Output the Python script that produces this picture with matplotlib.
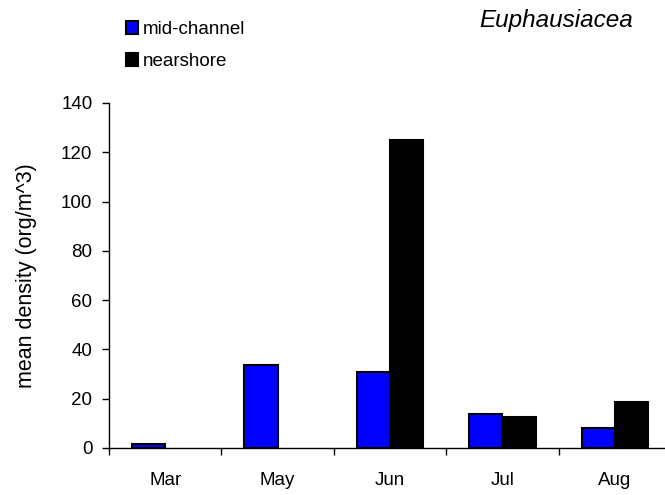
import numpy as np
import matplotlib.pyplot as plt
from matplotlib.patches import Patch

months = ["Mar", "May", "Jun", "Jul", "Aug"]
mid_channel = [1.5, 33.5, 31, 13.7, 8.2]
nearshore = [0, 0, 125, 12.7, 18.8]
yticks = [0, 20, 40, 60, 80, 100, 120, 140]

plt.rcParams['font.family'] = ['Liberation Sans', 'DejaVu Sans']

fig = plt.figure(figsize=(6.65, 4.95), dpi=100)
ax = fig.add_axes([0.164, 0.095, 0.845, 0.697])

x = np.arange(len(months))
w = 0.295
ax.bar(x - w / 2, mid_channel, w, color="#0000ff", edgecolor="black", linewidth=1.5)
near = np.array(nearshore)
ax.bar(x[near > 0] + w / 2, near[near > 0], w, color="black", edgecolor="black", linewidth=1.5)

ax.set_xlim(-0.5, len(months) - 0.5)
ax.set_ylim(0, 140)
ax.set_yticks(yticks)
ax.set_xticks(x)
ax.set_xticklabels(months)
ax.set_xticks(np.arange(len(months) + 1) - 0.5, minor=True)
ax.tick_params(axis="x", which="major", length=0, pad=17, labelsize=13.5)
ax.tick_params(axis="x", which="minor", length=5, width=1, direction="out")
ax.tick_params(axis="y", length=5, width=1, direction="out", labelsize=13.5, pad=7)

for s in ["top", "right"]:
    ax.spines[s].set_visible(False)
ax.spines["left"].set_linewidth(1)
ax.spines["bottom"].set_linewidth(1)

ax.set_ylabel("mean density (org/m^3)", fontsize=15.5)
ax.yaxis.set_label_coords(-0.128, 0.5)

handles = [Patch(facecolor="#0000ff", edgecolor="black", linewidth=1.5, label="mid-channel"),
           Patch(facecolor="black", edgecolor="black", linewidth=1.5, label="nearshore")]
fig.legend(handles=handles, loc="upper left", bbox_to_anchor=(0.178, 0.973), frameon=False,
           handlelength=0.65, handleheight=0.7, handletextpad=0.25, labelspacing=0.8,
           fontsize=13.5, borderaxespad=0)

fig.text(0.952, 1 - 27 / 495, "Euphausiacea", fontsize=17.5, style="italic",
         ha="right", va="baseline")

fig.savefig("out.png", dpi=100)
